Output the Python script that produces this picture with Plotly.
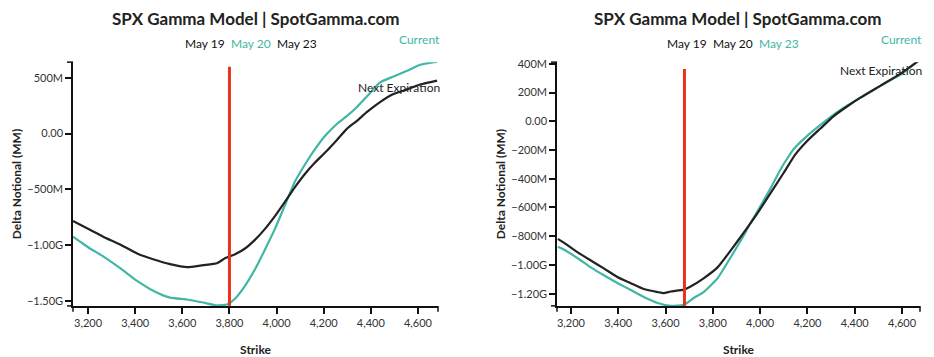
import plotly.graph_objects as go

# ---- Left panel (May 20 selected) ----
left_current_strike = [3136, 3166, 3208, 3264, 3336, 3408, 3476, 3548, 3620, 3688, 3747, 3790,
                       3824, 3866, 3909, 3951, 3993, 4036, 4078, 4121, 4163, 4206, 4257, 4299,
                       4341, 4384, 4439, 4494, 4554, 4609, 4651, 4681]
left_current_mm = [-924, -968, -1030, -1100, -1206, -1320, -1408, -1470, -1487, -1514, -1540, -1531,
                   -1478, -1364, -1214, -1038, -854, -640, -430, -275, -140, -20, 88, 158,
                   238, 334, 458, 510, 563, 616, 634, 642]
left_next_strike = [3136, 3208, 3264, 3336, 3408, 3476, 3548, 3620, 3688, 3747, 3781,
                    3824, 3866, 3909, 3951, 3993, 4036, 4078, 4121, 4163, 4206, 4257, 4299,
                    4341, 4384, 4439, 4494, 4554, 4609, 4681]
left_next_mm = [-783, -862, -924, -994, -1074, -1126, -1170, -1197, -1179, -1162, -1118,
                -1082, -1030, -950, -854, -740, -610, -480, -360, -260, -170, -55, 44,
                114, 194, 282, 352, 396, 440, 475]
left_spot = 3800
left_spot_top_mm = 598

# ---- Right panel (May 23 selected) ----
right_current_strike = [3145, 3170, 3230, 3284, 3339, 3398, 3453, 3508, 3567, 3622, 3677, 3719,
                        3761, 3820, 3875, 3930, 3959, 3989, 4044, 4086, 4120, 4141,
                        4200, 4255, 4310, 4369, 4424, 4508, 4592, 4668]
right_current_mm = [-873, -893, -955, -1017, -1072, -1127, -1175, -1223, -1265, -1285, -1278, -1230,
                    -1189, -1093, -948, -797, -708, -625, -467, -335, -245, -195,
                    -100, -25, 45, 110, 165, 247, 323, 419]
right_next_strike = [3145, 3170, 3230, 3284, 3339, 3398, 3453, 3508, 3567, 3592, 3622, 3677,
                     3706, 3761, 3820, 3875, 3930, 3989, 4044, 4099, 4149, 4200, 4255, 4310,
                     4369, 4424, 4508, 4592, 4668]
right_next_mm = [-818, -845, -914, -969, -1024, -1086, -1127, -1168, -1189, -1196, -1185, -1172,
                 -1150, -1093, -1017, -900, -777, -639, -500, -360, -230, -135, -50, 35,
                 105, 165, 247, 330, 419]
right_spot = 3680
right_spot_top_mm = 364

dates = ["May 19", "May 20", "May 23"]
title_text = "SPX Gamma Model | SpotGamma.com"

TEAL = "#41b6a6"
DARK = "#222222"
RED = "#e8331c"
FONT = "Lato"

M = 1e6
fig = go.Figure()

def add_panel(xa, ya, cs, cv, ns, nv, spot, spot_top, ymin):
    fig.add_trace(go.Scatter(x=cs, y=[v * M for v in cv], mode="lines",
                             line=dict(color=TEAL, width=2.2, shape="spline", smoothing=0.5),
                             xaxis=xa, yaxis=ya, showlegend=False, hoverinfo="skip"))
    fig.add_trace(go.Scatter(x=ns, y=[v * M for v in nv], mode="lines",
                             line=dict(color=DARK, width=2.2, shape="spline", smoothing=0.5),
                             xaxis=xa, yaxis=ya, showlegend=False, hoverinfo="skip"))
    fig.add_trace(go.Scatter(x=[spot, spot], y=[ymin * M, spot_top * M], mode="lines",
                             line=dict(color=RED, width=3), xaxis=xa, yaxis=ya,
                             showlegend=False, hoverinfo="skip"))

add_panel("x", "y", left_current_strike, left_current_mm, left_next_strike, left_next_mm,
          left_spot, left_spot_top_mm, -1544)
add_panel("x2", "y2", right_current_strike, right_current_mm, right_next_strike, right_next_mm,
          right_spot, right_spot_top_mm, -1285)

# page body has an 8px margin: figure is placed at (8, 8)
OFF = 8
W, H = 934 - OFF, 357 - OFF
def px(x):
    return (x - OFF) / W
def py(y):
    return 1 - (y - OFF) / H

dom1 = [px(73), px(438)]
dom2 = [px(557), px(920)]
ydom = [py(306), py(58)]

xcommon = dict(showgrid=False, zeroline=False, showline=True, linecolor="#111", linewidth=1.5,
               ticks="outside", ticklen=6, tickcolor="#111", tickwidth=1.5,
               tickformat=",d", dtick=200, tick0=3200,
               tickfont=dict(family=FONT, size=11, color="#333"),
               title=dict(text="<b>Strike</b>", font=dict(family=FONT, size=12, color="#222"), standoff=18))
ycommon = dict(showgrid=False, zeroline=False, showline=True, linecolor="#111", linewidth=1.5,
               ticks="outside", ticklen=6, tickcolor="#111", tickwidth=1.5,
               tickformat=".3s",
               tickfont=dict(family=FONT, size=11, color="#333"),
               title=dict(text="<b>Delta Notional (MM)</b>", font=dict(family=FONT, size=12, color="#222"),
                          standoff=3))

fig.update_layout(
    width=W, height=H, margin=dict(l=0, r=0, t=0, b=0),
    paper_bgcolor="white", plot_bgcolor="white",
    font=dict(family=FONT, color="#222"),
    xaxis=dict(xcommon, domain=dom1, range=[3136, 4685], anchor="y"),
    yaxis=dict(ycommon, domain=ydom, range=[-1544 * M, 640 * M], dtick=500 * M, anchor="x"),
    xaxis2=dict(xcommon, domain=dom2, range=[3141, 4676], anchor="y2"),
    yaxis2=dict(ycommon, domain=ydom, range=[-1285 * M, 412 * M], dtick=200 * M, anchor="x2"),
)

# end ticks (D3-style outer ticks) on axes
shapes = []
tl = 6 / W
tv = 6 / H
for d in (dom1, dom2):
    shapes.append(dict(type="line", xref="paper", yref="paper", x0=d[0] - tl, x1=d[0],
                       y0=ydom[1], y1=ydom[1], line=dict(color="#111", width=1.5)))
    shapes.append(dict(type="line", xref="paper", yref="paper", x0=d[0] - tl, x1=d[0],
                       y0=ydom[0], y1=ydom[0], line=dict(color="#111", width=1.5)))
    shapes.append(dict(type="line", xref="paper", yref="paper", x0=d[0], x1=d[0],
                       y0=ydom[0] - tv, y1=ydom[0], line=dict(color="#111", width=1.5)))
    shapes.append(dict(type="line", xref="paper", yref="paper", x0=d[1], x1=d[1],
                       y0=ydom[0] - tv, y1=ydom[0], line=dict(color="#111", width=1.5)))
fig.update_layout(shapes=shapes)

ann = []
def txt(x, y, s, color="#222", size=12, anchor="center", bold=False):
    ann.append(dict(xref="paper", yref="paper", x=px(x), y=py(y), text=("<b>%s</b>" % s) if bold else s,
                    showarrow=False, xanchor=anchor, yanchor="middle",
                    font=dict(family=FONT, size=size, color=color)))

# titles
txt(255, 14, title_text, size=17, bold=True)
txt(737, 14, title_text, size=17, bold=True)
# date selectors
left_sel, right_sel = 1, 2
for i, (xl, xr) in enumerate(zip([205, 251, 297], [687, 733, 779])):
    txt(xl, 39, dates[i], color=TEAL if i == left_sel else "#111", size=12)
    txt(xr, 39, dates[i], color=TEAL if i == right_sel else "#111", size=12)
# legend labels
txt(442, 35, "Current", color=TEAL, size=12, anchor="right")
txt(924, 35, "Current", color=TEAL, size=12, anchor="right")
txt(442, 84, "Next Expiration", color="#222", size=12, anchor="right")
txt(924, 66, "Next Expiration", color="#222", size=12, anchor="right")
fig.update_layout(annotations=ann)

fig.write_html("out.html")
